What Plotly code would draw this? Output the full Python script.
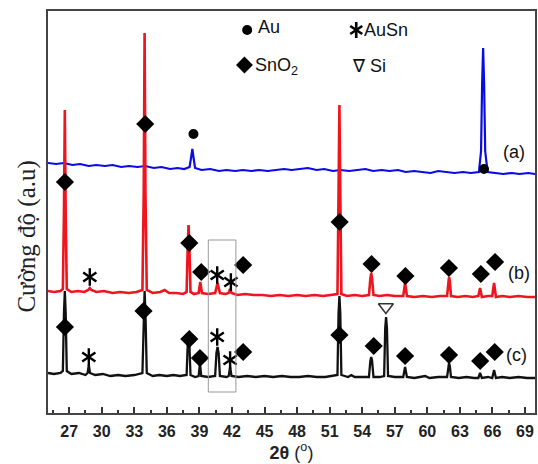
import plotly.graph_objects as go

# ---- data (2theta in degrees, intensity in arbitrary units) ----
blue_pts = [(25.05,250),(25.8,249),(26.5,250),(27.3,248),(28.0,249),(28.8,247),(29.5,248),(30.3,247),
            (31.0,248),(31.8,246),(32.5,247),(33.3,246),(34.0,247),(34.8,245),(35.5,246),(36.3,244),
            (37.0,245),(37.6,244),(38.1,246),(38.25,256),(38.35,264),(38.45,256),(38.6,245),(39.2,243),
            (40.0,244),(40.8,242),(41.5,243),(42.3,242),(43.0,243),(43.8,242),(44.5,243),(45.3,242),
            (46.0,243),(46.8,244),(47.5,243),(48.3,244),(49.0,245),(49.8,243),(50.5,244),(51.3,242),
            (52.0,243),(52.8,242),(53.5,243),(54.3,244),(55.0,242),(55.8,243),(56.5,242),(57.3,243),
            (58.0,241),(58.8,242),(59.5,241),(60.3,240),(61.0,242),(61.8,241),(62.5,240),(63.3,241),
            (64.0,240),(64.75,241),(64.95,262),(65.05,330),(65.14,365),(65.23,330),(65.33,262),(65.55,241),
            (66.2,240),(67.0,239),(67.8,240),(68.5,239),(69.3,240),(69.92,239)]

red_pts = [(25.05,122),(25.6,121),(26.2,122),(26.42,124),(26.52,200),(26.6,303),(26.68,200),(26.78,124),
           (27.2,121),(27.8,122),(28.4,121),(28.75,123),(28.9,125),(29.05,123),(29.5,121),(30.2,122),
           (31.0,120),(31.7,121),(32.5,120),(33.2,121),(33.75,123),(33.87,220),(33.95,380),(34.03,220),
           (34.15,123),(34.7,120),(35.4,121),(35.8,123),(36.2,120),(36.9,120),(37.5,119),(37.82,121),
           (37.92,165),(38.0,188),(38.08,165),(38.18,121),(38.5,119),(38.93,120),(39.08,131),(39.23,120),
           (39.8,119),(40.45,120),(40.67,130),(40.89,120),(41.4,119),(41.7,120),(41.83,124),(41.96,120),
           (42.5,118),(43.2,119),(44.0,118),(44.8,118),(45.6,117),(46.4,118),(47.2,117),(48.0,118),
           (48.8,117),(49.6,118),(50.4,117),(51.1,118),(51.72,119),(51.82,220),(51.9,308),(51.98,220),
           (52.08,119),(52.6,117),(53.3,118),(54.0,117),(54.62,118),(54.75,134),(54.83,140),(54.91,134),
           (55.04,118),(55.6,117),(56.3,118),(57.0,117),(57.78,117),(57.95,130),(58.12,117),(58.8,116),
           (59.6,117),(60.4,116),(61.2,117),(61.82,117),(61.93,132),(62.0,136),(62.07,132),(62.18,117),
           (62.8,116),(63.5,117),(64.2,116),(64.7,117),(64.86,125),(65.02,116),(65.6,117),(65.98,117),
           (66.15,130),(66.32,116),(66.9,117),(67.6,116),(68.4,117),(69.2,116),(69.92,116)]

black_pts = [(25.05,40),(25.6,39),(26.2,40),(26.42,42),(26.52,100),(26.6,122),(26.68,100),(26.78,42),
             (27.2,39),(27.9,40),(28.5,38),(28.7,40),(28.81,48),(28.92,40),(29.4,38),(30.1,39),
             (30.8,37),(31.5,38),(32.2,37),(33.0,38),(33.75,40),(33.87,100),(33.95,122),(34.03,100),
             (34.15,40),(34.7,37),(35.3,38),(36.0,37),(36.6,38),(37.2,37),(37.82,38),(37.92,68),
             (38.0,78),(38.08,68),(38.18,38),(38.6,36),(38.93,37),(39.05,50),(39.17,37),(39.8,36),
             (40.45,37),(40.57,60),(40.67,66),(40.77,60),(40.89,37),(41.5,36),(41.7,37),(41.83,46),
             (41.96,37),(42.6,36),(43.4,37),(44.2,36),(45.0,37),(45.8,36),(46.6,37),(47.4,36),
             (48.2,36),(49.0,37),(49.8,36),(50.6,36),(51.3,37),(51.72,38),(51.82,100),(51.9,117),
             (51.98,100),(52.08,38),(52.7,36),(53.0,38),(53.3,36),(54.0,36),(54.62,36),(54.75,52),
             (54.83,56),(54.91,52),(55.04,36),(55.6,36),(56.02,37),(56.12,85),(56.2,96),(56.28,85),
             (56.38,37),(57.0,36),(57.78,36),(57.95,46),(58.12,36),(58.8,35),(59.5,36),(59.8,37),
             (60.2,35),(61.0,36),(61.82,36),(61.93,47),(62.0,50),(62.07,47),(62.18,36),(62.9,35),
             (63.6,36),(64.3,35),(64.7,35),(64.86,40),(65.02,35),(65.6,36),(65.98,35),(66.15,43),
             (66.32,35),(66.9,36),(67.6,35),(68.4,36),(69.2,35),(69.92,35)]

# phase markers
au_pts = [(38.45,279),(65.22,244)]
sno2_pts = [(26.61,231),(34.01,289),(38.07,170),(39.17,141),(43.03,148),(51.92,191),(54.86,149),
            (57.98,137),(61.99,145),(64.93,139),(66.24,151),
            (26.61,86),(33.85,102),(38.07,74),(39.05,55),(43.03,61),(51.9,78),(55.06,67),
            (57.95,57),(62.0,58),(64.87,52),(66.21,61)]
ausn_pts = [(28.9,136),(40.64,138),(41.9,131),(28.81,56),(40.64,76),(41.83,53)]
si_pts = [(56.18,106)]

curve_labels = ["(a)", "(b)", "(c)"]
curve_label_pos = [(68.0,261),(68.4,140),(68.2,58)]

x_ticks = list(range(27, 70, 3))
x_range = [25.05, 69.92]
y_range = [0, 402]
box_x = [39.82, 42.36]
box_y = [21, 173]

def xs(p): return [a for a, b in p]
def ys(p): return [b for a, b in p]

fig = go.Figure()
fig.add_trace(go.Scatter(x=xs(blue_pts), y=ys(blue_pts), mode="lines",
                         line=dict(color="#0a0ae6", width=2.2)))
fig.add_trace(go.Scatter(x=xs(black_pts), y=ys(black_pts), mode="lines",
                         line=dict(color="#111111", width=2.3)))
fig.add_trace(go.Scatter(x=xs(red_pts), y=ys(red_pts), mode="lines",
                         line=dict(color="#f0141e", width=2.6)))

fig.add_trace(go.Scatter(x=xs(au_pts), y=ys(au_pts), mode="markers",
                         marker=dict(symbol="circle", size=10, color="black")))
fig.add_trace(go.Scatter(x=xs(sno2_pts), y=ys(sno2_pts), mode="markers",
                         marker=dict(symbol="diamond", size=14, color="black")))
for sym in ["y-up-open", "y-down-open"]:
    fig.add_trace(go.Scatter(x=xs(ausn_pts), y=ys(ausn_pts), mode="markers",
                             marker=dict(symbol=sym, size=11, color="black",
                                         line=dict(color="black", width=2.4))))
fig.add_trace(go.Scatter(x=xs(si_pts), y=ys(si_pts), mode="markers",
                         marker=dict(symbol="triangle-down-open", size=13, color="#333",
                                     line=dict(color="#333", width=1.5))))

# legend markers
fig.add_trace(go.Scatter(x=[43.4], y=[383], mode="markers",
                         marker=dict(symbol="circle", size=10, color="black")))
fig.add_trace(go.Scatter(x=[43.15], y=[348], mode="markers",
                         marker=dict(symbol="diamond", size=13, color="black")))
for sym in ["y-up-open", "y-down-open"]:
    fig.add_trace(go.Scatter(x=[53.45], y=[383], mode="markers",
                             marker=dict(symbol=sym, size=10, color="black",
                                         line=dict(color="black", width=2.6))))

legend_font = dict(family="Liberation Sans, Arial", size=18, color="#111")
fig.add_annotation(x=44.2, y=386, text="Au", showarrow=False, xanchor="left", font=legend_font)
fig.add_annotation(x=53.95, y=383, text="AuSn", showarrow=False, xanchor="left", font=legend_font)
fig.add_annotation(x=43.9, y=347, text="SnO<sub>2</sub>", showarrow=False, xanchor="left", font=legend_font)
fig.add_annotation(x=52.9, y=347, text="∇ Si", showarrow=False, xanchor="left", font=legend_font)

for lab, (lx, ly) in zip(curve_labels, curve_label_pos):
    fig.add_annotation(x=lx, y=ly, text=lab, showarrow=False,
                       font=dict(family="Liberation Sans, Arial", size=18, color="#111"))

fig.add_shape(type="rect", x0=box_x[0], x1=box_x[1], y0=box_y[0], y1=box_y[1],
              line=dict(color="#999999", width=1))

fig.add_annotation(xref="paper", yref="paper", x=-0.075, y=0.44, text="Cường độ (a.u)",
                   textangle=-90, showarrow=False,
                   font=dict(family="Liberation Serif, Times New Roman", size=25, color="#222"))

fig.update_layout(
    width=538, height=464, showlegend=False,
    margin=dict(l=48, r=1, t=11, b=51),
    paper_bgcolor="white", plot_bgcolor="white",
    xaxis=dict(range=x_range, tickvals=x_ticks, ticks="inside", ticklen=6, tickwidth=1.5,
               tickcolor="#333", showgrid=False, zeroline=False,
               showline=True, linecolor="#444", linewidth=1.5, mirror=True,
               minor=dict(ticks="inside", ticklen=3, tick0=25.5, dtick=3, tickcolor="#333", tickwidth=1.5),
               tickfont=dict(family="Liberation Sans, Arial", size=16, color="#222", weight="bold"),
               ticklabelstandoff=3,
               title=dict(text="<b>2θ</b> (<sup>o</sup>)", standoff=2,
                          font=dict(family="Liberation Sans, Arial", size=18, color="#222"))),
    yaxis=dict(range=y_range, showticklabels=False, ticks="", showgrid=False, zeroline=False,
               showline=True, linecolor="#444", linewidth=1.5, mirror=True),
)

fig.write_html("out.html")
